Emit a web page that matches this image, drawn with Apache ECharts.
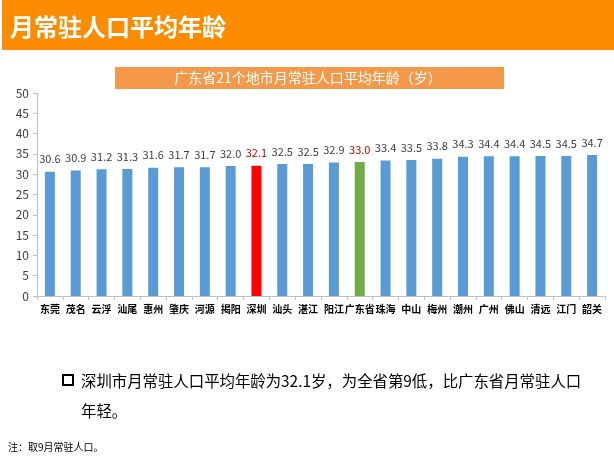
<!DOCTYPE html>
<html><head><meta charset="utf-8">
<script src="https://cdn.jsdelivr.net/npm/echarts@6/dist/echarts.min.js"></script>
<style>html,body{margin:0;padding:0;background:#fff}#c{width:614px;height:472px}</style>
</head><body><div id="c"></div>
<script>
const categories = ['东莞','茂名','云浮','汕尾','惠州','肇庆','河源','揭阳','深圳','汕头','湛江','阳江','广东省','珠海','中山','梅州','潮州','广州','佛山','清远','江门','韶关'];
const values = [30.6,30.9,31.2,31.3,31.6,31.7,31.7,32.0,32.1,32.5,32.5,32.9,33.0,33.4,33.5,33.8,34.3,34.4,34.4,34.5,34.5,34.7];
const highlightRed = ['深圳'];
const highlightGreen = ['广东省'];
const yTicks = [0,5,10,15,20,25,30,35,40,45,50];

const FONT = '"Noto Sans CJK SC", "Noto Sans", sans-serif';
const chart = echarts.init(document.getElementById('c'), null, {renderer:'canvas'});
const data = values.map((v,i)=>{
  const c = categories[i];
  let color = '#5B9BD5', lc = '#404040';
  if (highlightRed.includes(c)) { color = '#FF0000'; lc = '#C00000'; }
  if (highlightGreen.includes(c)) { color = '#70AD47'; lc = '#C00000'; }
  return {value:v, itemStyle:{color}, label:{color:lc}};
});
chart.setOption({
  animation:false,
  textStyle:{fontFamily:FONT},
  grid:{left:37, right:9, top:93, bottom:176, containLabel:false},
  xAxis:{type:'category', data:categories, boundaryGap:true,
    axisLine:{lineStyle:{color:'#BFBFBF'}},
    axisTick:{show:true, length:4, lineStyle:{color:'#BFBFBF'}},
    axisLabel:{color:'#000', fontSize:10, fontWeight:'bold', margin:8, interval:0, fontFamily:FONT}},
  yAxis:{type:'value', min:yTicks[0], max:yTicks[yTicks.length-1], interval:5,
    axisLine:{show:true, lineStyle:{color:'#BFBFBF'}},
    axisTick:{show:true, length:4, lineStyle:{color:'#BFBFBF'}},
    splitLine:{show:false},
    axisLabel:{color:'#404040', fontSize:12, margin:8, fontFamily:FONT}},
  series:[{type:'bar', data, barWidth:10,
    label:{show:true, position:'top', distance:7, fontSize:11, fontFamily:FONT,
      formatter:p=>p.value.toFixed(1)}}],
  graphic:[
    {type:'rect', shape:{x:2,y:0,width:612,height:50}, style:{fill:'#FB8C00'}},
    {type:'text', x:10, y:27, style:{text:'月常驻人口平均年龄', fill:'#fff', font:'bold 24px '+FONT, textVerticalAlign:'middle'}},
    {type:'rect', shape:{x:115,y:67,width:389,height:22}, style:{fill:'#F4994A'}},
    {type:'text', x:308, y:78, style:{text:'广东省21个地市月常驻人口平均年龄（岁）', fill:'#fff', font:'14px '+FONT, textAlign:'center', textVerticalAlign:'middle'}},
    {type:'rect', shape:{x:63,y:375,width:10,height:10}, style:{fill:'none', stroke:'#000', lineWidth:2}},
    {type:'text', x:81, y:381, style:{text:'深圳市月常驻人口平均年龄为32.1岁，为全省第9低，比广东省月常驻人口', fill:'#000', font:'15.4px '+FONT, textVerticalAlign:'middle'}},
    {type:'text', x:81, y:411, style:{text:'年轻。', fill:'#000', font:'15.4px '+FONT, textVerticalAlign:'middle'}},
    {type:'text', x:8, y:447, style:{text:'注：取9月常驻人口。', fill:'#000', font:'10px '+FONT, textVerticalAlign:'middle'}}
  ]
});
</script></body></html>
